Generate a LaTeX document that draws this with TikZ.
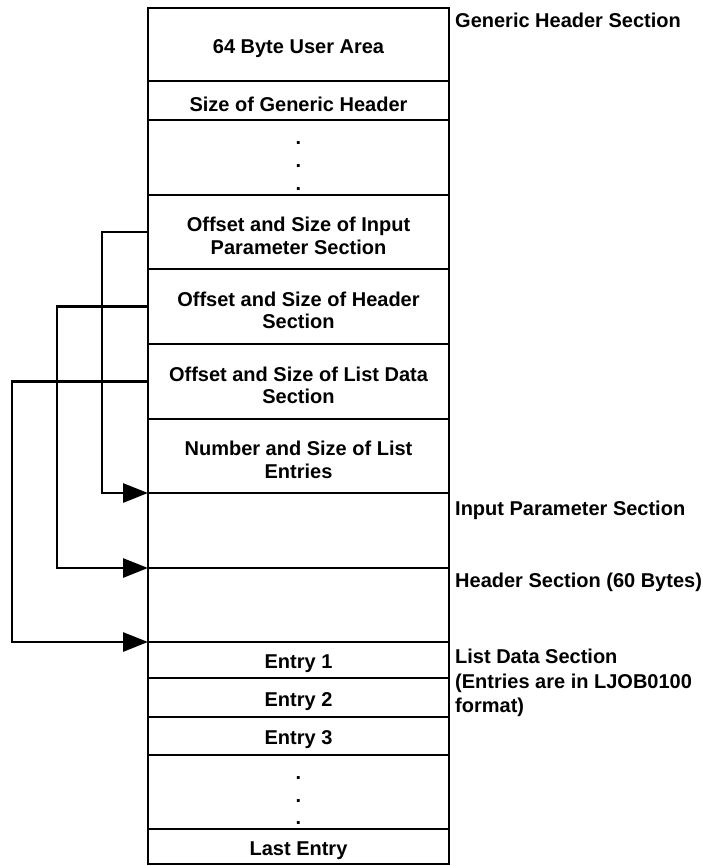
\documentclass[tikz,border=0pt]{standalone}
\usepackage{fontspec}
\setmainfont{Liberation Sans}
\usetikzlibrary{arrows.meta}

\newcommand{\labelfont}{\bfseries\fontsize{20}{24.5}\selectfont}
\newcommand{\cellfont}{\bfseries\fontsize{20}{22.5}\selectfont}
\tikzset{
	cell/.style={draw, line width=2.8pt, outer sep=0pt, minimum width=301pt, inner sep=0pt},
	celltext/.style={inner sep=0pt, align=center, yshift=-4pt, font=\cellfont},
	dotmark/.style={inner sep=0pt, anchor=base, font=\labelfont},
	sidelabel/.style={inner sep=0pt, align=left, font=\labelfont},
	link/.style={line width=2.8pt, -{Triangle[length=25pt,width=19pt]}}
}

\begin{document}
\begin{tikzpicture}[x=1pt, y=-1pt]
		\useasboundingbox (0,0) rectangle (702,866);

		% column of sections === V
		\foreach \nm/\ya/\yb/\txt in {
				userarea/8/81/{64 Byte User Area},
				gensize/81/120/{Size of Generic Header},
				gendots/120/195/{},
				inoff/195/269/{Offset and Size of Input\\Parameter Section},
				hdroff/269/344/{Offset and Size of Header\\Section},
				listoff/344/419/{Offset and Size of List Data\\Section},
				numsize/419/493/{Number and Size of List\\Entries},
				inparm/493/568/{},
				hdrsec/568/642/{},
				entry1/642/678/{Entry 1},
				entry2/678/717/{Entry 2},
				entry3/717/755/{Entry 3},
				entdots/755/829/{},
				lastentry/829/864/{Last Entry}}
			{
			\node[cell, minimum height={\yb-\ya}] (\nm) at (298.5, {(\ya+\yb)/2}) {};
			\node[celltext] (\nm-txt) at (\nm.center) {\txt};
			}
		% ==== A

		% dots
		\foreach \k/\yd in {1/145, 2/168, 3/191}
			\node[dotmark] (gdot\k) at (gendots.center |- 0,\yd) {.};
		\foreach \k/\yd in {1/779, 2/802, 3/824}
			\node[dotmark] (edot\k) at (entdots.center |- 0,\yd) {.};

		% offsets pointing to their sections
		\draw[link] (inoff.west) -- ++(-46,0) |- (inparm.north west);
		\draw[link] (hdroff.west) -- ++(-91,0) |- (hdrsec.north west);
		\draw[link] (listoff.west) -- ++(-136,0) |- (entry1.north west);

		% section names
		\node[sidelabel, anchor=base west] (genlbl) at (455, 28) {Generic Header Section};
		\node[sidelabel, anchor=base west] (inlbl) at (455, 515) {Input Parameter Section};
		\node[sidelabel, anchor=base west] (hdrlbl) at (455, 587) {Header Section (60 Bytes)};
		\node[sidelabel, anchor=north west] (listlbl) at (455, 649) {List Data Section\\(Entries are in LJOB0100\\format)};
\end{tikzpicture}
\end{document}
